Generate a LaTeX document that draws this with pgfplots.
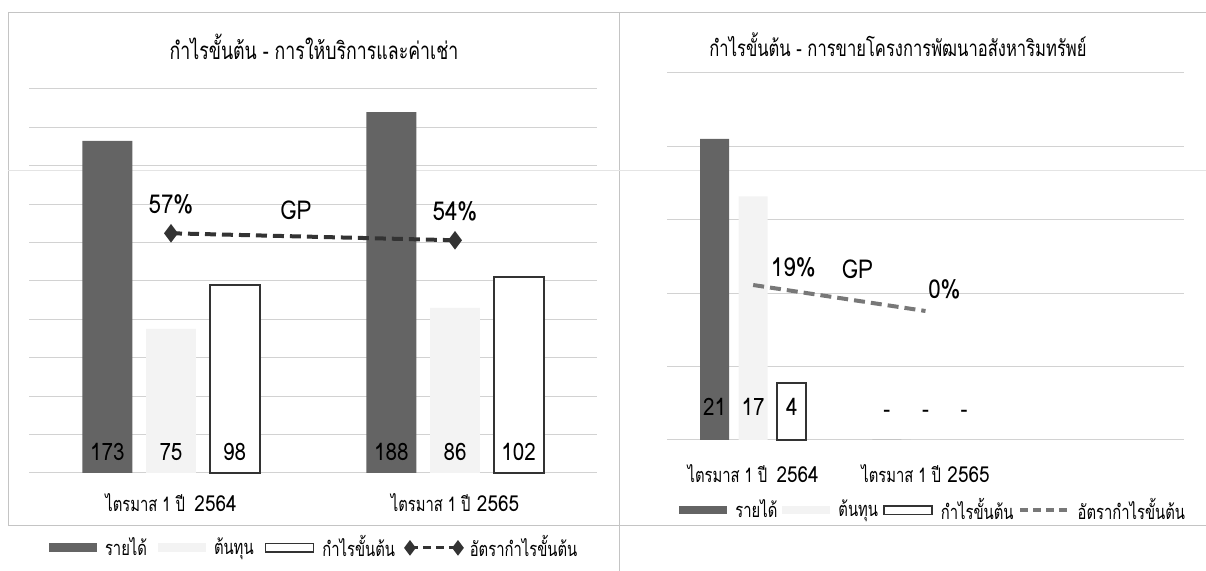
\documentclass[border=0pt]{standalone}
\usepackage{fontspec}
\setmainfont[FakeStretch=0.86]{Loma}
\newfontfamily\thai[Script=Thai,FakeStretch=0.74]{Loma}
\usepackage{pgfplots}
\pgfplotsset{compat=1.18}

\definecolor{bardark}{HTML}{646464}
\definecolor{barlight}{HTML}{F3F3F3}
\definecolor{gridgray}{HTML}{D2D2D2}
\definecolor{linedark}{HTML}{333333}
\definecolor{linegray}{HTML}{787878}
\definecolor{framegray}{HTML}{C4C4C4}

\newcommand\titlefont{\fontsize{12}{14}\selectfont\thai}
\newcommand\pctfont{\fontsize{13}{15}\selectfont}
\newcommand\datafont{\fontsize{12}{14}\selectfont}
\newcommand\catfont{\fontsize{11}{13}\selectfont}
\newcommand\cat[1]{{\fontsize{10}{12}\selectfont\thai #1}}
\newcommand\legfont{\fontsize{10}{12}\selectfont\thai}

\pgfplotsset{
  panel/.style={
    scale only axis, anchor=south west,
    axis line style={draw=none}, tick style={draw=none},
    yticklabel=\empty, ymajorgrids,
    grid style={gridgray, line width=0.5pt},
    xtick={0,1}, clip=false,
    xticklabel style={anchor=center, font=\catfont},
  },
  overlay/.style={
    scale only axis, anchor=south west, hide axis, clip=false,
    legend style={draw=none, fill=none, legend columns=-1, font=\legfont,
      inner sep=0pt, anchor=center, nodes={inner sep=1pt},
      /tikz/every odd column/.append style={column sep=3pt}},
  },
  swatch/.style={legend image code/.code={
    \filldraw[#1] (0pt,-2.2pt) rectangle (24pt,2.2pt);}},
}

\begin{document}
\begin{tikzpicture}[x=1pt,y=1pt]
\path[use as bounding box] (0,0) rectangle (603,285.5);

% page frame lines
\draw[framegray, line width=0.4pt] (4,279.5) -- (603,279.5);
\draw[framegray, line width=0.4pt] (4,279.5) -- (4,23);
\draw[framegray, line width=0.4pt] (309.5,279.5) -- (309.5,0);
\draw[framegray, line width=0.4pt] (4,23) -- (603,23);
\draw[framegray!45, line width=0.4pt] (4,200.5) -- (603,200.5);

% ---------- left panel: services and rent ----------
\begin{axis}[panel, at={(14.5pt,49pt)}, width=284pt, height=192pt,
  xmin=-0.5, xmax=1.5, ymin=0, ymax=200, ytick={0,20,...,200},
  xticklabels={\cat{ไตรมาส 1 ปี}\ \hspace{1.5pt}2564, \cat{ไตรมาส 1 ปี} 2565},
  xticklabel style={yshift=-15pt}]
\addplot[ybar, bar width=0.176, bar shift=-0.224, fill=bardark, draw=none]
  coordinates {(0,173) (1,188)};
\addplot[ybar, bar width=0.176, bar shift=0, fill=barlight, draw=none]
  coordinates {(0,75) (1,86)};
\addplot[ybar, bar width=0.176, bar shift=0.224, fill=white, draw=linedark, line width=1pt]
  coordinates {(0,98) (1,102)};
\addplot[draw=none, mark=none, nodes near coords, point meta=explicit symbolic,
  every node near coord/.append style={anchor=center, font=\datafont, text=black}]
  coordinates {(-0.224,11)[173] (0,11)[75] (0.224,11)[98]
               (0.776,11)[188] (1,11)[86] (1.224,11)[102]};
\end{axis}

\begin{axis}[overlay, at={(14.5pt,49pt)}, width=284pt, height=192pt,
  xmin=-0.5, xmax=1.5, ymin=-46, ymax=119,
  legend style={at={(0.502,-0.195)},
    /tikz/every even column/.append style={column sep=4.5pt}}]
\addlegendimage{swatch={fill=bardark, draw=none}}
\addlegendentry{รายได้}
\addlegendimage{swatch={fill=barlight, draw=none}}
\addlegendentry{ต้นทุน}
\addlegendimage{swatch={fill=white, draw=linedark, line width=0.9pt}}
\addlegendentry{กำไรขั้นต้น}
\addlegendimage{legend image code/.code={
  \draw[linedark, line width=1.6pt, dash pattern=on 4pt off 2.5pt,
        mark=diamond*, mark size=2.6pt, mark options={solid, fill=linedark}]
    plot coordinates {(0pt,0pt) (24pt,0pt)};}}
\addlegendentry{อัตรากำไรขั้นต้น}
\addplot[forget plot, linedark, line width=2pt, dash pattern=on 5.5pt off 3pt,
  mark=diamond*, mark size=3pt, mark options={solid, fill=linedark},
  nodes near coords, point meta=explicit symbolic,
  every node near coord/.append style={anchor=center, yshift=14.5pt, font=\pctfont, text=black}]
  coordinates {(0,57)[57\%] (1,54)[54\%]};
\node[font=\pctfont] at (axis cs:0.44,66.9) {GP};
\end{axis}

\node[font=\titlefont] at (157,262) {กำไรขั้นต้น - การให้บริการและค่าเช่า};

% ---------- right panel: property development sales ----------
\begin{axis}[panel, at={(333.5pt,65.5pt)}, width=258.5pt, height=183.5pt,
  xmin=-0.5, xmax=2.5, ymin=0, ymax=25.6,
  ytick={0,5.12,10.24,15.36,20.48,25.6},
  xticklabels={\cat{ไตรมาส 1 ปี}\ \hspace{1.5pt}2564, \cat{ไตรมาส 1 ปี} 2565},
  xticklabel style={yshift=-17pt}]
\addplot[ybar, bar width=0.168, bar shift=-0.224, fill=bardark, draw=none]
  coordinates {(0,21) (1,0)};
\addplot[ybar, bar width=0.168, bar shift=0, fill=barlight, draw=none]
  coordinates {(0,17) (1,0)};
\addplot[ybar, bar width=0.168, bar shift=0.224, fill=white, draw=linedark, line width=1pt]
  coordinates {(0,4)};
\addplot[draw=none, mark=none, nodes near coords, point meta=explicit symbolic,
  every node near coord/.append style={anchor=center, font=\datafont, text=black}]
  coordinates {(-0.224,2.3)[21] (0,2.3)[17] (0.224,2.3)[4]
               (0.776,1.8)[-] (1,1.8)[-] (1.224,1.8)[-]};
\end{axis}

\begin{axis}[overlay, at={(333.5pt,65.5pt)}, width=258.5pt, height=183.5pt,
  xmin=-0.5, xmax=2.5, ymin=-94.3, ymax=174,
  legend style={at={(0.515,-0.191)},
    /tikz/every even column/.append style={column sep=1.5pt}}]
\addlegendimage{swatch={fill=bardark, draw=none}}
\addlegendentry{รายได้}
\addlegendimage{swatch={fill=barlight, draw=none}}
\addlegendentry{ต้นทุน}
\addlegendimage{swatch={fill=white, draw=linedark, line width=0.9pt}}
\addlegendentry{กำไรขั้นต้น}
\addlegendimage{legend image code/.code={
  \draw[linegray, line width=1.6pt, dash pattern=on 4pt off 2.5pt]
    (0pt,0pt) -- (24pt,0pt);}}
\addlegendentry{อัตรากำไรขั้นต้น}
\addplot[forget plot, linegray, line width=2pt, dash pattern=on 5.5pt off 3pt, mark=none]
  coordinates {(0,19) (1,0)};
\node[font=\pctfont] at (axis cs:0.233,32.2) {19\%};
\node[font=\pctfont] at (axis cs:1.11,16.1) {0\%};
\node[font=\pctfont] at (axis cs:0.605,30.7) {GP};
\end{axis}

\node[font=\fontsize{11.2}{13}\selectfont\thai] at (449,263) {กำไรขั้นต้น - การขายโครงการพัฒนาอสังหาริมทรัพย์};

\end{tikzpicture}
\end{document}
